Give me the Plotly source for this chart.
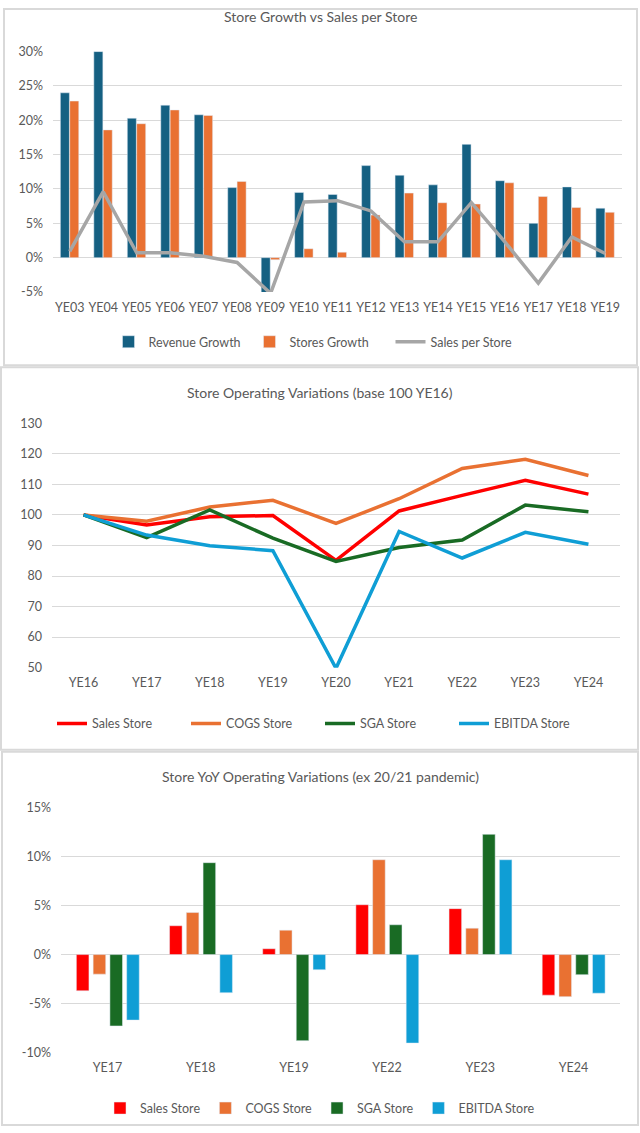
import plotly.graph_objects as go

W, H = 640, 1133

# ---------------- Data ----------------
years1 = ["YE03", "YE04", "YE05", "YE06", "YE07", "YE08", "YE09", "YE10", "YE11",
          "YE12", "YE13", "YE14", "YE15", "YE16", "YE17", "YE18", "YE19"]
revenue_growth = [24.0, 30.0, 20.3, 22.2, 20.8, 10.2, -5.3, 9.5, 9.2, 13.4, 12.0,
                  10.6, 16.5, 11.2, 5.0, 10.3, 7.2]
stores_growth = [22.8, 18.6, 19.5, 21.5, 20.7, 11.1, -0.3, 1.3, 0.8, 6.2, 9.4,
                 8.0, 7.8, 10.9, 8.9, 7.3, 6.6]
sales_per_store = [0.9, 9.6, 0.7, 0.7, 0.2, -0.7, -5.2, 8.1, 8.3, 6.8, 2.3,
                   2.3, 8.0, 2.3, -3.7, 3.0, 0.6]
y1_ticks = [-5, 0, 5, 10, 15, 20, 25, 30]
y1_labels = ["-5%", "0%", "5%", "10%", "15%", "20%", "25%", "30%"]

years2 = ["YE16", "YE17", "YE18", "YE19", "YE20", "YE21", "YE22", "YE23", "YE24"]
sales_store = [100, 96.7, 99.4, 99.8, 85.1, 101.3, 106.4, 111.3, 106.8]
cogs_store = [100, 97.9, 102.6, 104.8, 97.2, 105.3, 115.2, 118.2, 112.9]
sga_store = [100, 92.6, 101.6, 92.4, 84.8, 89.3, 91.8, 103.2, 101.0]
ebitda_store = [100, 93.4, 89.9, 88.3, 49.8, 94.6, 85.9, 94.3, 90.4]
y2_ticks = [50, 60, 70, 80, 90, 100, 110, 120, 130]

years3 = ["YE17", "YE18", "YE19", "YE22", "YE23", "YE24"]
yoy_sales = [-3.7, 2.95, 0.6, 5.1, 4.7, -4.15]
yoy_cogs = [-2.0, 4.3, 2.5, 9.7, 2.7, -4.3]
yoy_sga = [-7.3, 9.4, -8.8, 3.05, 12.3, -2.05]
yoy_ebitda = [-6.7, -3.9, -1.55, -9.05, 9.7, -3.95]
y3_ticks = [-10, -5, 0, 5, 10, 15]
y3_labels = ["-10%", "-5%", "0%", "5%", "10%", "15%"]

# ---------------- Style ----------------
FONT = "Lato"
TXT = "#595959"
GRID = "#d9d9d9"
BLUE = "#156082"
ORANGE = "#e97132"
GRAY = "#a6a6a6"
RED = "#ff0000"
GREEN = "#196b24"
LBLUE = "#0f9ed5"

# the captured picture shows the page slightly squeezed vertically; compensate
Y_SCALE, Y_OFF = 0.985, 8.5


def px_x(p):
    return p / W


def px_y(p):
    f = (p - Y_OFF) / Y_SCALE
    f = min(max(f, 0.0), H)
    return 1 - f / H


fig = go.Figure()

# Chart 1
fig.add_trace(go.Bar(x=years1, y=revenue_growth, name="Revenue Growth", marker_color=BLUE,
                     width=0.27, offset=-0.28, xaxis="x", yaxis="y", legend="legend"))
fig.add_trace(go.Bar(x=years1, y=stores_growth, name="Stores Growth", marker_color=ORANGE,
                     width=0.27, offset=0.0, xaxis="x", yaxis="y", legend="legend"))
fig.add_trace(go.Scatter(x=years1, y=sales_per_store, name="Sales per Store", mode="lines",
                         line=dict(color=GRAY, width=3.5), xaxis="x", yaxis="y", legend="legend"))

# Chart 2
for name, vals, col in [("Sales Store", sales_store, RED), ("COGS Store", cogs_store, ORANGE),
                        ("SGA Store", sga_store, GREEN), ("EBITDA Store", ebitda_store, LBLUE)]:
    fig.add_trace(go.Scatter(x=years2, y=vals, name=name, mode="lines",
                             line=dict(color=col, width=3.5), xaxis="x2", yaxis="y2",
                             legend="legend2"))

# Chart 3
for i, (name, vals, col) in enumerate([("Sales Store", yoy_sales, RED), ("COGS Store", yoy_cogs, ORANGE),
                                       ("SGA Store", yoy_sga, GREEN), ("EBITDA Store", yoy_ebitda, LBLUE)]):
    fig.add_trace(go.Bar(x=years3, y=vals, name=name, marker_color=col, width=0.135,
                         offset=-0.335 + i * 0.18, xaxis="x3", yaxis="y3", legend="legend3"))

tickfont = dict(family=FONT, size=12.5, color=TXT)
common_x = dict(type="category", showgrid=False, zeroline=False, showline=False, ticks="",
                tickfont=tickfont, ticklabelstandoff=6, fixedrange=True)
common_y = dict(showgrid=True, gridcolor=GRID, gridwidth=1, zeroline=False, showline=False,
                ticks="", tickfont=tickfont, ticklabelstandoff=9, fixedrange=True)

legend_common = dict(orientation="h", xanchor="center", yanchor="middle",
                     font=dict(family=FONT, size=12.5, color=TXT), bgcolor="rgba(0,0,0,0)",
                     itemwidth=30, tracegroupgap=0)

fig.update_layout(
    width=W, height=H,
    margin=dict(l=0, r=0, t=0, b=0),
    paper_bgcolor="white", plot_bgcolor="white",
    font=dict(family=FONT, color=TXT),
    barmode="group",
    xaxis=dict(common_x, domain=[px_x(53), px_x(622)], anchor="y", range=[-0.5, 16.5]),
    yaxis=dict(common_y, domain=[px_y(292), px_y(52)], anchor="x", range=[-5, 30],
               tickvals=y1_ticks, ticktext=y1_labels),
    xaxis2=dict(common_x, domain=[px_x(52), px_x(620)], anchor="y2", range=[-0.5, 8.5]),
    yaxis2=dict(common_y, domain=[px_y(667), px_y(423)], anchor="x2", range=[50, 130],
                tickvals=y2_ticks),
    xaxis3=dict(common_x, domain=[px_x(61), px_x(620)], anchor="y3", range=[-0.5, 5.5]),
    yaxis3=dict(common_y, domain=[px_y(1051), px_y(807)], anchor="x3", range=[-10, 15],
                tickvals=y3_ticks, ticktext=y3_labels),
    legend=dict(legend_common, x=0.5, y=px_y(342), entrywidth=96, entrywidthmode="pixels"),
    legend2=dict(legend_common, x=0.5, y=px_y(723), entrywidth=89, entrywidthmode="pixels"),
    legend3=dict(legend_common, x=0.5, y=px_y(1107)),
    showlegend=True,
)

# Titles
for text, ypx in [("Store Growth vs Sales per Store", 17),
                  ("Store Operating Variations (base 100 YE16)", 392),
                  ("Store YoY Operating Variations (ex 20/21 pandemic)", 776)]:
    fig.add_annotation(text=text, x=0.5, y=px_y(ypx), xref="paper", yref="paper",
                       showarrow=False, xanchor="center", yanchor="middle",
                       font=dict(family=FONT, size=14, color=TXT))

# Panel borders
for x0, y0, x1, y1 in [(4, 1, 637, 365), (1, 367, 638, 749), (2, 751, 638, 1131)]:
    fig.add_shape(type="rect", xref="paper", yref="paper",
                  x0=px_x(x0), x1=px_x(x1), y0=max(px_y(y1), 0.001), y1=min(px_y(y0), 0.999),
                  line=dict(color=GRID, width=2), fillcolor="rgba(0,0,0,0)", layer="below")

fig.write_html(
    "out.html",
    config={"displayModeBar": False},
    post_script=("document.documentElement.style.margin='0px';"
                 "document.documentElement.style.padding='0px';"
                 "document.documentElement.style.overflow='hidden';"
                 "document.body.style.margin='0px';"
                 "document.body.style.padding='0px';"
                 "document.body.style.overflow='hidden';"),
)
